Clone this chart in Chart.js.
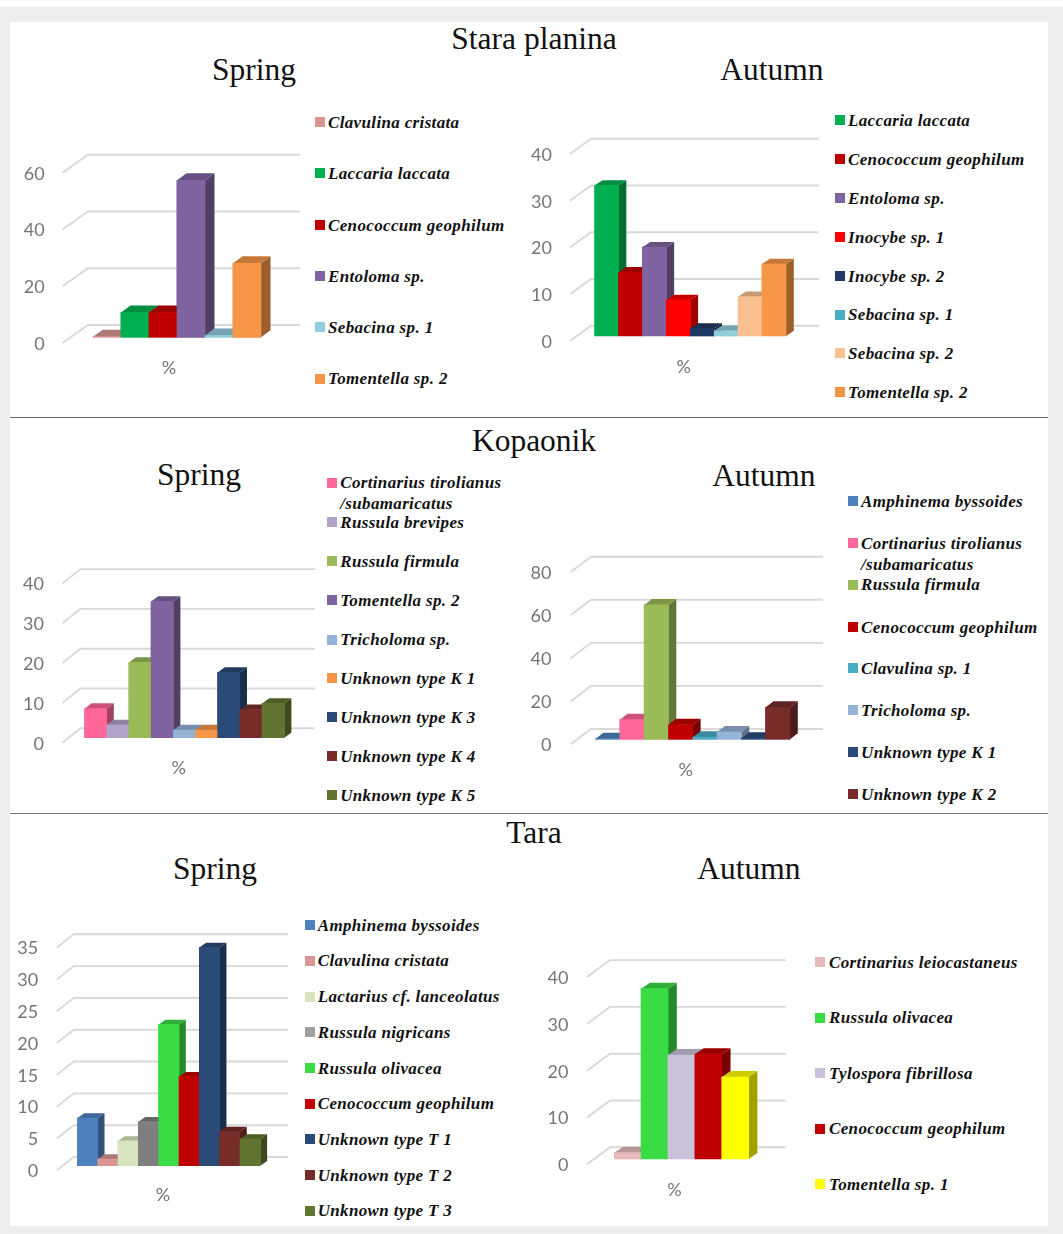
<!DOCTYPE html>
<html><head><meta charset="utf-8">
<script src="https://cdn.jsdelivr.net/npm/chart.js@4"></script>
<style>
html,body{margin:0;padding:0;background:#fff;}
#page{position:relative;width:1063px;height:1234px;overflow:hidden;background:#fff;}
#band{position:absolute;left:0;top:7px;width:1063px;height:1227px;background:#eeeeee;}
#sheet{position:absolute;left:10px;top:22px;width:1038px;height:1204px;background:#fff;}
.rule{position:absolute;left:10px;width:1038px;height:1px;}
.title{position:absolute;transform:translate(-50%,-50%);font:31.5px "Liberation Serif",serif;color:#111;white-space:nowrap;}
.sw{position:absolute;width:10px;height:10px;}
.lg{position:absolute;font:italic bold 17px/20.6px "Liberation Serif",serif;letter-spacing:.35px;color:#111;white-space:pre;}
.box{position:absolute;}
</style></head><body>
<div id="page"><div id="band"></div><div id="sheet"></div>
<div class="rule" style="top:417px;background:#666"></div>
<div class="rule" style="top:813px;background:#777"></div>
</div>
<script>
// ---------- data ----------
const sectionTitles = ["Stara planina", "Kopaonik", "Tara"];
const seasonTitles = ["Spring", "Autumn"];
const xCategories = ["%"];

const staraSpringSpecies = ["Clavulina cristata","Laccaria laccata","Cenococcum geophilum","Entoloma sp.","Sebacina sp. 1","Tomentella sp. 2"];
const staraSpringValues = [0.2,8.7,8.7,55.3,0.6,26.1];
const staraSpringTicks = [0,20,40,60];
const staraSpringColors = ["#D99694","#00B050","#C00000","#8064A2","#92CDDC","#F79646"];
const staraSpringKeys = ["#D99694","#00B050","#C00000","#8064A2","#92CDDC","#F79646"];

const staraAutumnSpecies = ["Laccaria laccata","Cenococcum geophilum","Entoloma sp.","Inocybe sp. 1","Inocybe sp. 2","Sebacina sp. 1","Sebacina sp. 2","Tomentella sp. 2"];
const staraAutumnValues = [32.2,13.6,19.0,7.7,1.6,1.1,8.4,15.4];
const staraAutumnTicks = [0,10,20,30,40];
const staraAutumnColors = ["#00B050","#C00000","#8064A2","#FF0000","#1F3864","#92CDDC","#FAC090","#F79646"];
const staraAutumnKeys = ["#00B050","#C00000","#8064A2","#FF0000","#1F3864","#4BACC6","#FAC090","#F79646"];

const kopaonikSpringSpecies = ["Cortinarius tirolianus\n/subamaricatus","Russula brevipes","Russula firmula","Tomentella sp. 2","Tricholoma sp.","Unknown type K 1","Unknown type K 3","Unknown type K 4","Unknown type K 5"];
const kopaonikSpringValues = [7.3,3.2,18.9,34.2,1.9,1.9,16.4,7.0,8.6];
const kopaonikSpringTicks = [0,10,20,30,40];
const kopaonikSpringColors = ["#FF6699","#B3A2C7","#9BBB59","#8064A2","#95B3D7","#F79646","#2A4B78","#772C2A","#5F7530"];
const kopaonikSpringKeys = ["#FF6699","#B3A2C7","#9BBB59","#8064A2","#95B3D7","#F79646","#2A4B78","#772C2A","#5F7530"];

const kopaonikAutumnSpecies = ["Amphinema byssoides","Cortinarius tirolianus\n/subamaricatus","Russula firmula","Cenococcum geophilum","Clavulina sp. 1","Tricholoma sp.","Unknown type K 1","Unknown type K 2"];
const kopaonikAutumnValues = [0.3,9.1,62.4,6.7,1.0,3.4,0.5,14.9];
const kopaonikAutumnTicks = [0,20,40,60,80];
const kopaonikAutumnColors = ["#4F81BD","#FF6699","#9BBB59","#C00000","#4BACC6","#95B3D7","#2A4B78","#772C2A"];
const kopaonikAutumnKeys = ["#4F81BD","#FF6699","#9BBB59","#C00000","#4BACC6","#95B3D7","#2A4B78","#772C2A"];

const taraSpringSpecies = ["Amphinema byssoides","Clavulina cristata","Lactarius cf. lanceolatus","Russula nigricans","Russula olivacea","Cenococcum geophilum","Unknown type T 1","Unknown type T 2","Unknown type T 3"];
const taraSpringValues = [7.5,1.05,3.9,6.9,22.2,14.0,34.3,5.4,4.2];
const taraSpringTicks = [0,5,10,15,20,25,30,35];
const taraSpringColors = ["#4F81BD","#D99694","#D7E4BD","#7F7F7F","#39DC45","#C00000","#2A4B78","#772C2A","#5F7530"];
const taraSpringKeys = ["#4F81BD","#D99694","#D7E4BD","#A0A0A0","#39DC45","#C00000","#2A4B78","#772C2A","#5F7530"];

const taraAutumnSpecies = ["Cortinarius leiocastaneus","Russula olivacea","Tylospora fibrillosa","Cenococcum geophilum","Tomentella sp. 1"];
const taraAutumnValues = [1.35,36.4,22.2,22.4,17.5];
const taraAutumnTicks = [0,10,20,30,40];
const taraAutumnColors = ["#E6B9B8","#39DC45","#CCC1DA","#C00000","#FFFF00"];
const taraAutumnKeys = ["#E6B9B8","#39DC45","#CCC1DA","#C00000","#FFFF00"];

// ---------- layout (page pixels) ----------
const panels = [
 {species:staraSpringSpecies,values:staraSpringValues,ticks:staraSpringTicks,colors:staraSpringColors,keys:staraSpringKeys,
  barL:93,barR:261,base:337.3,unit:2.838,front:5.7,back:12.3,frontX:62.5,backX:87.9,gridR:300,dx:9.5,dy:7,labelR:44.6,pctX:169,pctY:368,
  swX:315,txtX:328,keyY:[122,173.3,225,276,327.3,378.7],title:[254,70]},
 {species:staraAutumnSpecies,values:staraAutumnValues,ticks:staraAutumnTicks,colors:staraAutumnColors,keys:staraAutumnKeys,
  barL:594.6,barR:786,base:336,unit:4.675,front:5,back:10.3,frontX:570,backX:591,gridR:819,dx:7.8,dy:5.3,labelR:552,pctX:683.7,pctY:367,
  swX:835.3,txtX:848,keyY:[120,159.3,198,237,276,314.7,353.3,392],title:[772,70]},
 {species:kopaonikSpringSpecies,values:kopaonikSpringValues,ticks:kopaonikSpringTicks,colors:kopaonikSpringColors,keys:kopaonikSpringKeys,
  barL:84.5,barR:284.3,base:737.7,unit:3.98,front:5,back:9.4,frontX:62.5,backX:80.4,gridR:315,dx:7.1,dy:5.3,labelR:44,pctX:178.8,pctY:768,
  swX:327.2,txtX:340.2,keyY:[482.7,522.3,561.3,600,639.7,678,717,756,795],title:[199,475]},
 {species:kopaonikAutumnSpecies,values:kopaonikAutumnValues,ticks:kopaonikAutumnTicks,colors:kopaonikAutumnColors,keys:kopaonikAutumnKeys,
  barL:595.6,barR:790,base:739.3,unit:2.154,front:5,back:10.3,frontX:570.8,backX:591,gridR:823,dx:7.8,dy:6,labelR:551.4,pctX:685.7,pctY:770,
  swX:848,txtX:861,keyY:[501.3,543.3,584.7,627,668.3,710.3,752,794],title:[764,476]},
 {species:taraSpringSpecies,values:taraSpringValues,ticks:taraSpringTicks,colors:taraSpringColors,keys:taraSpringKeys,
  barL:77.4,barR:260.3,base:1165.7,unit:6.363,front:4.6,back:8.7,frontX:56.8,backX:73.7,gridR:288.3,dx:6.8,dy:4.7,labelR:38.2,pctX:163,pctY:1195,
  swX:304.5,txtX:317.7,keyY:[925,960.7,996.7,1032.3,1068,1103.7,1139.3,1175,1210.7],title:[215,869]},
 {species:taraAutumnSpecies,values:taraAutumnValues,ticks:taraAutumnTicks,colors:taraAutumnColors,keys:taraAutumnKeys,
  barL:614.3,barR:748.6,base:1159,unit:4.68,front:5.3,back:11.7,frontX:587,backX:610,gridR:785.7,dx:8.8,dy:6,labelR:568.4,pctX:674.5,pctY:1190,
  swX:815,txtX:829,keyY:[962,1017.7,1073.3,1128.7,1184],title:[749,869]}
];
const sectionTitlePos = [[534,38.5],[534,440.5],[534,832.5]];

function shade(hex,f){
  const n=parseInt(hex.slice(1),16);
  const c=[(n>>16)&255,(n>>8)&255,n&255].map(v=>Math.round(v*f));
  return `rgb(${c[0]},${c[1]},${c[2]})`;
}

const page=document.getElementById('page');
function addTitle(t,p){const d=document.createElement('div');d.className='title';d.textContent=t;d.style.left=p[0]+'px';d.style.top=p[1]+'px';page.appendChild(d);}
sectionTitles.forEach((t,i)=>addTitle(t,sectionTitlePos[i]));

const depthPlugin={
  id:'depth',
  beforeDatasetsDraw(chart,args,o){
    const y=chart.scales.y,ctx=chart.ctx,cx=o.canvasX;
    ctx.save();
    ctx.strokeStyle='#d9d9d9';ctx.lineWidth=1.9;ctx.lineJoin='miter';
    y.ticks.forEach(t=>{
      const py=y.getPixelForValue(t.value);
      ctx.beginPath();
      ctx.moveTo(o.frontX-cx,py+o.front);
      ctx.lineTo(o.backX-cx,py-o.back);
      ctx.lineTo(o.gridR-cx,py-o.back);
      ctx.stroke();
    });
    ctx.restore();
  },
  afterDatasetsDraw(chart,args,o){
    const ctx=chart.ctx;
    chart.data.datasets.forEach((ds,i)=>{
      const el=chart.getDatasetMeta(i).data[0];
      if(!el)return;
      const {x,y,base,width}=el.getProps(['x','y','base','width'],true);
      const l=x-width/2,r=x+width/2,c=ds.backgroundColor;
      ctx.save();
      ctx.fillStyle=shade(c,0.63);
      ctx.beginPath();ctx.moveTo(r,y);ctx.lineTo(r+o.dx,y-o.dy);ctx.lineTo(r+o.dx,base-o.dy);ctx.lineTo(r,base);ctx.closePath();ctx.fill();
      ctx.fillStyle=shade(c,0.8);
      ctx.beginPath();ctx.moveTo(l,y);ctx.lineTo(l+o.dx,y-o.dy);ctx.lineTo(r+o.dx,y-o.dy);ctx.lineTo(r,y);ctx.closePath();ctx.fill();
      ctx.restore();
      el.draw(ctx);
    });
  }
};

panels.forEach((p,i)=>{
  addTitle(seasonTitles[i%2],p.title);
  // legend
  p.species.forEach((s,k)=>{
    const sw=document.createElement('div');sw.className='sw';
    sw.style.left=p.swX+'px';sw.style.top=(p.keyY[k]-5)+'px';sw.style.background=p.keys[k];page.appendChild(sw);
    const tx=document.createElement('div');tx.className='lg';tx.textContent=s;
    tx.style.left=p.txtX+'px';tx.style.top=(p.keyY[k]-9.3)+'px';page.appendChild(tx);
  });
  // chart box
  const maxV=p.ticks[p.ticks.length-1];
  const plotTop=p.base-maxV*p.unit;
  const cx=Math.floor(p.frontX-60), cy=Math.floor(plotTop-30);
  const cw=Math.ceil(p.gridR+4-cx), ch=Math.ceil(p.base+50-cy);
  const box=document.createElement('div');box.className='box';
  box.style.cssText=`left:${cx}px;top:${cy}px;width:${cw}px;height:${ch}px;`;
  const cv=document.createElement('canvas');cv.width=cw;cv.height=ch;box.appendChild(cv);page.appendChild(box);
  const ticks=p.ticks;
  new Chart(cv,{
    type:'bar',
    data:{labels:xCategories,datasets:p.species.map((s,k)=>({label:s.replace('\n',' '),data:[p.values[k]],backgroundColor:p.colors[k],borderWidth:0}))},
    plugins:[depthPlugin],
    options:{
      responsive:false,animation:false,
      layout:{autoPadding:false,padding:{left:0,top:plotTop-cy,right:cx+cw-p.barR,bottom:0}},
      datasets:{bar:{barPercentage:1,categoryPercentage:1}},
      plugins:{legend:{display:false},title:{display:false},tooltip:{enabled:false},
        depth:{canvasX:cx,frontX:p.frontX,backX:p.backX,gridR:p.gridR,front:p.front,back:p.back,dx:p.dx,dy:p.dy}},
      scales:{
        x:{grid:{display:false,drawTicks:false},border:{display:false},
           afterFit(s){s.height=cy+ch-p.base;s.paddingLeft=0;s.paddingRight=0;},
           ticks:{color:'#767676',font:{family:'Lato',size:18},padding:p.pctY-p.base-11,labelOffset:p.pctX-(p.barL+p.barR)/2,maxRotation:0}},
        y:{min:0,max:maxV,grid:{display:false,drawTicks:false},border:{display:false},
           afterFit(s){s.width=p.barL-cx;s.paddingTop=0;s.paddingBottom=0;},
           afterBuildTicks(s){s.ticks=ticks.map(v=>({value:v}));},
           ticks:{color:'#767676',font:{family:'Lato',size:18},padding:p.barL-p.labelR,labelOffset:p.front+1,autoSkip:false}}
      }
    }
  });
});
</script></body></html>
